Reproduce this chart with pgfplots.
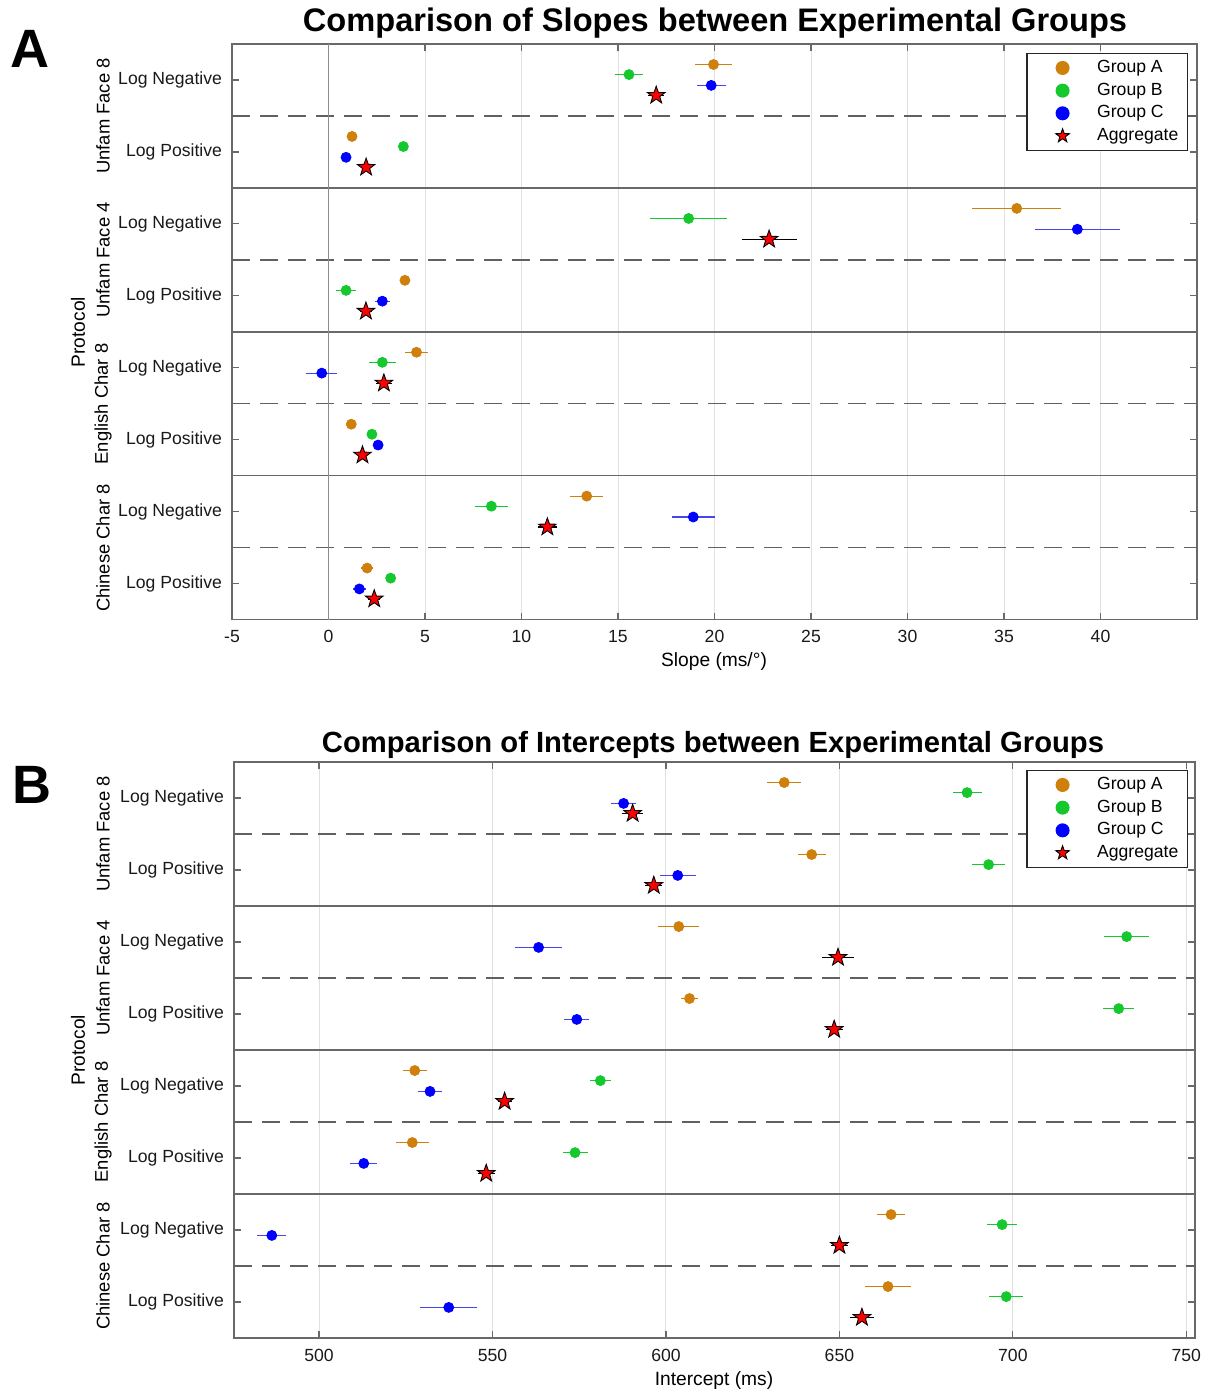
\documentclass[border=0pt]{standalone}
\usepackage{fontspec}
\setmainfont{Liberation Sans}
\usepackage{pgfplots}
\pgfplotsset{compat=1.18}
\usepackage{pgfplotstable}
\usetikzlibrary{plotmarks}
\pgfkeys{/pgf/number format/assume math mode=true}

\definecolor{grpA}{RGB}{206,128,10}
\definecolor{grpB}{RGB}{20,200,45}
\definecolor{grpC}{RGB}{0,0,255}
\definecolor{barC}{RGB}{70,70,235}
\definecolor{framec}{RGB}{105,105,105}

\pgfdeclareplotmark{fstar}{%
  \pgfpathmoveto{\pgfpointpolar{90}{\pgfplotmarksize}}%
  \pgfpathlineto{\pgfpointpolar{126}{0.4\pgfplotmarksize}}%
  \pgfpathlineto{\pgfpointpolar{162}{\pgfplotmarksize}}%
  \pgfpathlineto{\pgfpointpolar{198}{0.4\pgfplotmarksize}}%
  \pgfpathlineto{\pgfpointpolar{234}{\pgfplotmarksize}}%
  \pgfpathlineto{\pgfpointpolar{270}{0.4\pgfplotmarksize}}%
  \pgfpathlineto{\pgfpointpolar{306}{\pgfplotmarksize}}%
  \pgfpathlineto{\pgfpointpolar{342}{0.4\pgfplotmarksize}}%
  \pgfpathlineto{\pgfpointpolar{18}{\pgfplotmarksize}}%
  \pgfpathlineto{\pgfpointpolar{54}{0.4\pgfplotmarksize}}%
  \pgfpathclose
  \pgfusepathqfillstroke
}

% Panel A: slopes (ms/deg); rows = category centre y, value, half error
\pgfplotstableread{
y  xA    eA   xB    eB   xC    eC   xS    eS
15 19.95 0.95 15.57 0.75 19.83 0.75 16.98 0.40
13 1.22  0.15 3.88  0.15 0.91  0.15 1.95  0.20
11 35.66 2.30 18.66 1.98 38.80 2.20 22.83 1.42
9  3.96  0.15 0.91  0.53 2.79  0.40 1.94  0.30
7  4.56  0.60 2.79  0.70 -0.35 0.80 2.87  0.40
5  1.18  0.15 2.25  0.15 2.57  0.15 1.76  0.20
3  13.38 0.85 8.44  0.85 18.90 1.10 11.34 0.50
1  2.00  0.30 3.22  0.15 1.60  0.35 2.37  0.30
}\slopes

% Panel B: intercepts (ms)
\pgfplotstableread{
y  xA    eA   xB    eB   xC    eC   xS    eS
15 634.1 4.9  686.8 4.2  587.8 3.5  590.4 3.0
13 642.0 4.0  693.0 4.8  603.4 5.2  596.5 2.5
11 603.7 5.9  732.8 6.5  563.3 6.8  649.6 4.5
9  606.8 2.5  730.5 4.5  574.3 3.6  648.5 2.5
7  527.6 3.5  581.1 3.0  532.0 3.4  553.5 2.0
5  526.9 4.7  573.8 3.6  512.9 3.9  548.2 2.5
3  664.9 4.0  696.9 4.3  486.4 4.2  650.0 2.5
1  664.0 6.5  698.1 4.9  537.4 8.2  656.5 3.4
}\intercepts

\tikzset{
 sepsolid/.style={framec, line width=0.8pt},
 sepdash/.style={black!62, line width=0.7pt, dash pattern=on 9pt off 5pt},
}

\pgfplotsset{
 panel/.style={
  scale only axis,
  anchor=south west,
  ymin=0, ymax=16,
  ytick={1,3,...,15},
  yticklabels={Log Positive,Log Negative,Log Positive,Log Negative,Log Positive,Log Negative,Log Positive,Log Negative},
  xmajorgrids,
  grid style={black!12, line width=0.5pt},
  axis line style={framec, line width=0.8pt},
  tick style={framec, line width=0.6pt},
  major tick length=3.5pt,
  tick label style={font=\fontsize{8.8pt}{10pt}\selectfont, text=black!90},
  xticklabel style={yshift=-2pt},
  yticklabel style={xshift=-1.5pt},
  clip=false,
  legend style={at={(1,1)}, anchor=north east, draw=black!85, line width=0.6pt,
    font=\fontsize{8.8pt}{10pt}\selectfont, inner xsep=3pt, inner ysep=1.5pt,
    row sep=0pt, nodes={inner xsep=1.5pt, inner ysep=1.85pt}},
  legend cell align=left,
  legend image code/.code={\path (0pt,-3pt) (30pt,3pt); \draw[##1] plot coordinates {(14.5pt,0pt)};},
 },
 gA/.style={only marks, mark=*, mark size=2.5pt, color=grpA, legend image post style={mark size=3.2pt},
   error bars/.cd, x dir=both, x explicit, error mark=none, error bar style={line width=0.6pt, color=grpA}},
 gB/.style={only marks, mark=*, mark size=2.5pt, color=grpB, legend image post style={mark size=3.2pt},
   error bars/.cd, x dir=both, x explicit, error mark=none, error bar style={line width=0.6pt, color=grpB}},
 gC/.style={only marks, mark=*, mark size=2.5pt, color=grpC, legend image post style={mark size=3.2pt},
   error bars/.cd, x dir=both, x explicit, error mark=none, error bar style={line width=0.6pt, color=barC}},
 gS/.style={only marks, mark=fstar, mark size=4.6pt, draw=black, fill=red, mark options={line width=0.45pt},
   legend image post style={mark size=3.6pt},
   error bars/.cd, x dir=both, x explicit, error mark=none, error bar style={line width=0.6pt, color=black}},
}

\begin{document}
\begin{tikzpicture}
\path (0,0) rectangle (603pt,-696.5pt);

% ---------- Panel A ----------
\begin{axis}[panel, at={(116pt,-309.75pt)}, width=482.5pt, height=287.75pt,
  xmin=-5, xmax=45, xtick={-5,0,...,40},
  legend style={xshift=-4.5pt, yshift=-4.5pt}]
\draw[sepsolid] (-5,4) -- (45,4);
\draw[sepsolid] (-5,8) -- (45,8);
\draw[sepsolid] (-5,12) -- (45,12);
\draw[sepdash] (-5,2) -- (45,2);
\draw[sepdash] (-5,6) -- (45,6);
\draw[sepdash] (-5,10) -- (45,10);
\draw[sepdash] (-5,14) -- (45,14);
\draw[black!45, line width=0.8pt] (0,0) -- (0,16);
\addplot[gA] table[x=xA, y expr=\thisrow{y}+0.43, x error=eA] {\slopes};
\addplot[gB] table[x=xB, y expr=\thisrow{y}+0.15, x error=eB] {\slopes};
\addplot[gC] table[x=xC, y expr=\thisrow{y}-0.15, x error=eC] {\slopes};
\addplot[gS] table[x=xS, y expr=\thisrow{y}-0.43, x error=eS] {\slopes};
\legend{Group A, Group B, Group C, Aggregate}
\end{axis}

% ---------- Panel B ----------
\begin{axis}[panel, at={(117pt,-669pt)}, width=480.5pt, height=288pt,
  xmin=475.5, xmax=752.5, xtick={500,550,...,750},
  legend style={xshift=-3.5pt, yshift=-4pt}]
\draw[sepsolid] (475.5,4) -- (752.5,4);
\draw[sepsolid] (475.5,8) -- (752.5,8);
\draw[sepsolid] (475.5,12) -- (752.5,12);
\draw[sepdash] (475.5,2) -- (752.5,2);
\draw[sepdash] (475.5,6) -- (752.5,6);
\draw[sepdash] (475.5,10) -- (752.5,10);
\draw[sepdash] (475.5,14) -- (752.5,14);
\addplot[gA] table[x=xA, y expr=\thisrow{y}+0.43, x error=eA] {\intercepts};
\addplot[gB] table[x=xB, y expr=\thisrow{y}+0.15, x error=eB] {\intercepts};
\addplot[gC] table[x=xC, y expr=\thisrow{y}-0.15, x error=eC] {\intercepts};
\addplot[gS] table[x=xS, y expr=\thisrow{y}-0.43, x error=eS] {\intercepts};
\legend{Group A, Group B, Group C, Aggregate}
\end{axis}

% ---------- Titles, panel letters, labels ----------
\node[anchor=base, font=\bfseries\fontsize{16.3pt}{18pt}\selectfont, inner sep=0pt] at (357.5pt,-15.5pt) {Comparison of Slopes between Experimental Groups};
\node[anchor=base, font=\bfseries\fontsize{14.6pt}{17pt}\selectfont, inner sep=0pt] at (356.5pt,-376pt) {Comparison of Intercepts between Experimental Groups};
\node[anchor=base west, font=\bfseries\fontsize{27pt}{30pt}\selectfont, inner sep=0pt] at (5pt,-33.5pt) {A};
\node[anchor=base west, font=\bfseries\fontsize{27pt}{30pt}\selectfont, inner sep=0pt] at (6pt,-401.5pt) {B};

\node[font=\fontsize{9.6pt}{11pt}\selectfont, inner sep=0pt] at (357pt,-331pt) {Slope (ms/°)};
\node[font=\fontsize{9.6pt}{11pt}\selectfont, inner sep=0pt] at (357pt,-690.5pt) {Intercept (ms)};

\node[rotate=90, font=\fontsize{9.6pt}{11pt}\selectfont, inner sep=0pt] at (39pt,-166pt) {Protocol};
\node[rotate=90, font=\fontsize{9.6pt}{11pt}\selectfont, inner sep=0pt] at (39pt,-525pt) {Protocol};

\foreach \yy/\tt in {-58/Unfam Face 8, -130/Unfam Face 4, -202/English Char 8, -274/Chinese Char 8,
                     -417/Unfam Face 8, -489/Unfam Face 4, -561/English Char 8, -633/Chinese Char 8}{
  \node[rotate=90, font=\fontsize{9.2pt}{11pt}\selectfont, inner sep=0pt] at (51.5pt,\yy pt) {\tt};
}
\end{tikzpicture}
\end{document}
